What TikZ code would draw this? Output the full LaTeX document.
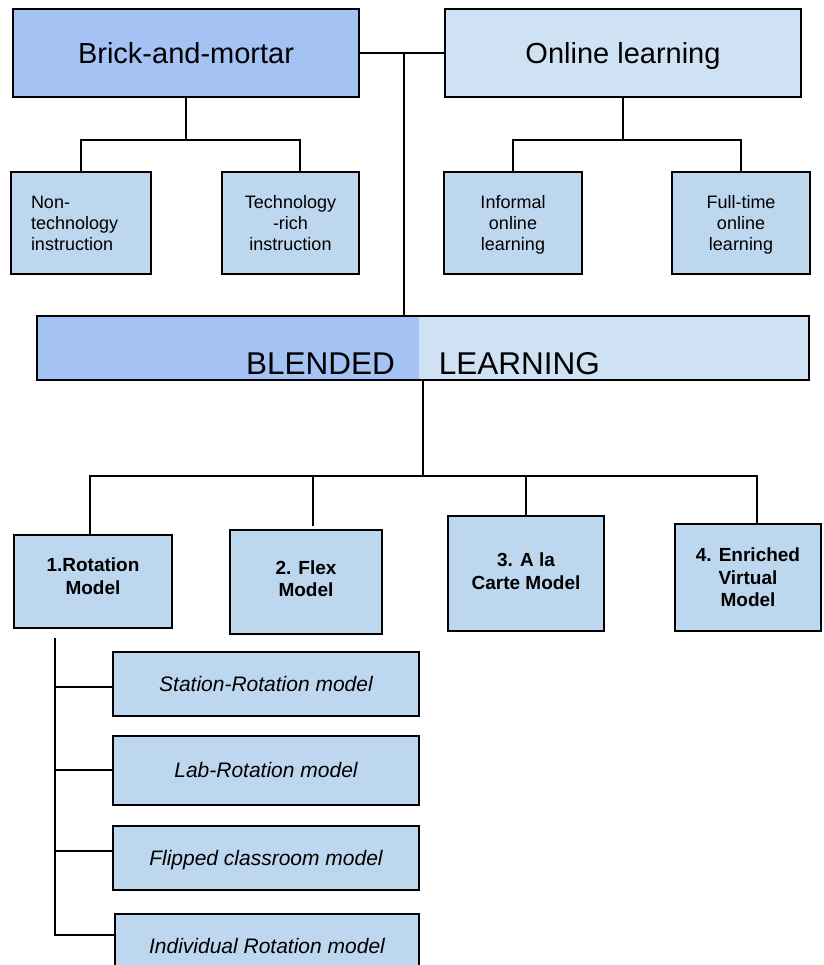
\documentclass[tikz,border=0pt]{standalone}
\usepackage{fontspec}
\setmainfont{Liberation Sans}
\usetikzlibrary{positioning}
\definecolor{darkfill}{HTML}{A4C2F4}
\definecolor{lightfill}{HTML}{CFE2F3}
\definecolor{boxfill}{HTML}{BDD7EE}
\tikzset{
    block/.style={
           rectangle,
           draw=black, line width=2pt,
           fill=boxfill,
           inner sep=2pt,
           align=center,
           },
    bigblock/.style={
           block,
           minimum height=88pt,
           text depth=0pt,
           font=\fontsize{29}{34}\selectfont,
           },
    smallblock/.style={
           block,
           minimum width=138pt,
           minimum height=102pt,
           font=\fontsize{18}{21}\selectfont,
           },
    modelblock/.style={
           block,
           font=\bfseries\fontsize{19}{22.5}\selectfont,
           },
    subblock/.style={
           block,
           minimum width=306pt,
           minimum height=64pt,
           text depth=0pt,
           font=\itshape\fontsize{21}{25}\selectfont,
           },
    link/.style={line width=2pt},
}

\begin{document}
\begin{tikzpicture}[x=1pt,y=-1pt]
	\useasboundingbox (0,0) rectangle (823,965);
	
	%top row
	\node[bigblock, fill=darkfill, minimum width=346pt] (brick) at (186,53) {Brick-and-mortar};
	\node[bigblock, fill=lightfill, minimum width=356pt, right=84pt of brick] (online) {Online learning};
	
	\node[smallblock, minimum width=140pt, text width=100pt, align=left, inner xsep=20pt] (nontech) at (81,223) {Non-\\technology\\instruction};
	\node[smallblock, minimum width=137pt] (techrich) at (290.5,223) {Technology\\-rich\\instruction};
	\node[smallblock, text depth=0pt] (informal) at (513,223) {Informal\\online\\learning};
	\node[smallblock, text depth=0pt] (fulltime) at (741,223) {Full-time\\online\\learning};
	
	%blended box, two halves
	\node[block, fill=lightfill, minimum width=772pt, minimum height=64pt,
		text height=52pt, text depth=0pt,
		font=\fontsize{31.5}{36}\selectfont,
		path picture={\fill[darkfill] (path picture bounding box.north west) rectangle ([xshift=-4pt]path picture bounding box.south);}]
		(blended) at (423,348) {BLENDED\hspace{1.4em}LEARNING};
	
	%models
	\node[modelblock, minimum width=158pt, minimum height=93pt] (rotation) at (93,581.5) {1.Rotation\\Model\\[-12pt]};
	\node[modelblock, minimum width=152pt, minimum height=104pt] (flex) at (306,582) {2. Flex\\Model\\[-16pt]};
	\node[modelblock, minimum width=156pt, minimum height=115pt] (carte) at (526,573.5) {3. A la\\Carte Model\\[-18pt]};
	\node[modelblock, minimum width=146pt, minimum height=107pt] (enriched) at (748,577.5) {4. Enriched\\Virtual\\Model};
	
	%rotation sub-models
	\node[subblock] (station) at (266,683.5) {Station-Rotation model};
	\node[subblock, minimum height=69pt, below=18pt of station] (lab) {Lab-Rotation model};
	\node[subblock, below=19pt of lab] (flipped) {Flipped classroom model};
	\node[subblock, minimum width=304pt, below=22pt of flipped, xshift=1pt] (indiv) {Individual Rotation model};
	
	%EDGES
	\coordinate (hub) at (404,53);
	\draw[link] (brick.east) -- (online.west);
	\draw[link] (hub) -- (hub |- blended.north);
	
	\draw[link] (brick.south) -- ++(0,42) coordinate (bmbar);
	\draw[link] (nontech.north) |- (bmbar) -| ([xshift=9pt]techrich.north);
	\draw[link] (online.south) -- ++(0,42) coordinate (olbar);
	\draw[link] (informal.north) |- (olbar) -| (fulltime.north);
	
	\draw[link] (blended.south) -- ++(0,95) coordinate (blbar);
	\draw[link] ([xshift=-3pt]rotation.north) |- (blbar) -| ([xshift=9pt]enriched.north);
	\draw[link] ([xshift=7pt,yshift=3pt]flex.north) -- ([xshift=7pt]flex.north |- blbar);
	\draw[link] (carte.north) -- (carte.north |- blbar);
	
	\coordinate (rottop) at ([xshift=-38pt,yshift=-9pt]rotation.south);
	\draw[link] (rottop) |- ([yshift=11pt]indiv.west);
	\draw[link] ([yshift=-3pt]station.west) -- ([yshift=-3pt]station.west -| rottop);
	\draw[link] (lab.west) -- (lab.west -| rottop);
	\draw[link] ([yshift=7pt]flipped.west) -- ([yshift=7pt]flipped.west -| rottop);
	
\end{tikzpicture}
\end{document}
